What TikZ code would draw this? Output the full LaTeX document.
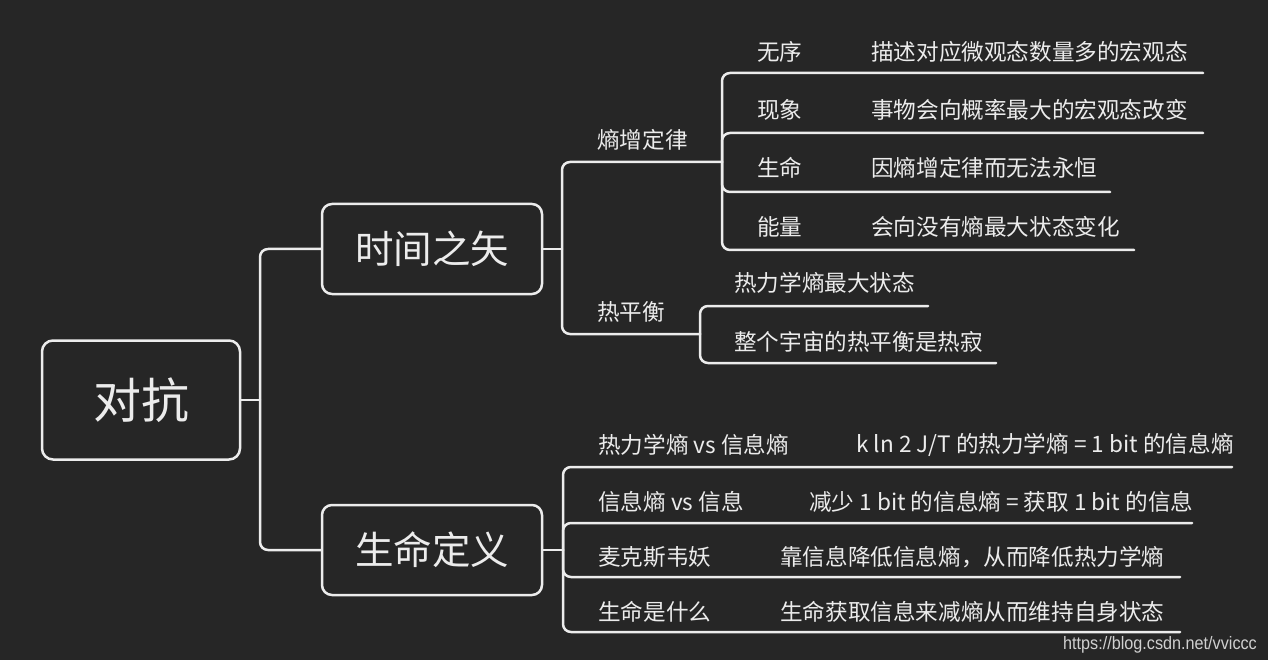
\documentclass[tikz,border=0pt]{standalone}
\usepackage{fontspec}
\setmainfont{Noto Sans CJK SC}
\newfontfamily\markfont[FakeStretch=0.9]{Liberation Sans}
\definecolor{bg}{HTML}{262626}
\definecolor{ink}{HTML}{ECECEC}
\definecolor{mark}{HTML}{D0D0D0}
\begin{document}
\begin{tikzpicture}[x=1pt,y=-1pt,line cap=round,line join=round,
  rootbox/.style={draw=ink,line width=2.5pt,rounded corners=11pt,text=ink,
    minimum width=198pt,minimum height=119pt,font=\fontsize{48}{50}\selectfont},
  topicbox/.style={draw=ink,line width=2.5pt,rounded corners=10pt,text=ink,
    minimum width=220pt,minimum height=90pt,font=\fontsize{38.5}{42}\selectfont},
  leaf/.style={text=ink,inner sep=0pt,anchor=west,font=\fontsize{22.6}{26}\selectfont},
  link/.style={draw=ink,line width=2.5pt,rounded corners=8pt}]
  \useasboundingbox[fill=bg] (0,0) rectangle (1268,660);
  % main topics
  \node[rootbox] (root) at (141,400) {对抗};
  \node[topicbox] (time) at (432,249) {时间之矢};
  \node[topicbox] (life) at (432,550) {生命定义};
  \coordinate (f0) at (260,400);
  \draw[link] (root.east) -- (f0);
  \draw[link] (time.west) -| (f0) |- (life.west);
  % time branch
  \coordinate (f1) at (562,249);
  \node[leaf] (shang) at (597,140) {熵增定律};
  \node[leaf] (reph) at (597,312) {热平衡};
  \coordinate (shangR) at (722,162);
  \coordinate (rephR) at (700,334);
  \draw[link] (time.east) -- (f1);
  \draw[link] (shangR) -| (f1) |- (rephR);
  % entropy law
  \node[leaf] (wuxu) at (757,52) {无序};
  \node[leaf] (wuxuD) at (871,52) {描述对应微观态数量多的宏观态};
  \node[leaf] (xianx) at (757,110) {现象};
  \node[leaf] (xianxD) at (871,110) {事物会向概率最大的宏观态改变};
  \node[leaf] (shengm) at (757,168) {生命};
  \node[leaf] (shengmD) at (871,168) {因熵增定律而无法永恒};
  \node[leaf] (nengl) at (757,227) {能量};
  \node[leaf] (nenglD) at (871,227) {会向没有熵最大状态变化};
  \coordinate (wuxuR) at (1203,73);
  \coordinate (xianxR) at (1203,133);
  \coordinate (shengmR) at (1110,192);
  \coordinate (nenglR) at (1134,250);
  \draw[link] (shangR) |- (wuxuR);
  \draw[link] (shangR) |- (xianxR);
  \draw[link] (shangR) |- (shengmR);
  \draw[link] (shangR) |- (nenglR);
  % thermal equilibrium
  \node[leaf] (relx) at (734,283) {热力学熵最大状态};
  \node[leaf] (zhengg) at (734,342) {整个宇宙的热平衡是热寂};
  \coordinate (relxR) at (928,306);
  \coordinate (zhenggR) at (996,363);
  \draw[link] (rephR) |- (relxR);
  \draw[link] (rephR) |- (zhenggR);
  % life branch
  \coordinate (f2) at (563,550);
  \draw[link] (life.east) -- (f2);
  \node[leaf] (rexx) at (598,445) {热力学熵 vs 信息熵};
  \node[leaf] (rexxD) at (856,445) {k ln 2 J/T 的热力学熵 = 1 bit 的信息熵};
  \node[leaf] (xinx) at (598,502) {信息熵 vs 信息};
  \node[leaf] (xinxD) at (809,502) {减少 1 bit 的信息熵 = 获取 1 bit 的信息};
  \node[leaf] (maxw) at (598,557) {麦克斯韦妖};
  \node[leaf] (maxwD) at (780,557) {靠信息降低信息熵，从而降低热力学熵};
  \node[leaf] (smsh) at (598,612) {生命是什么};
  \node[leaf] (smshD) at (780,612) {生命获取信息来减熵从而维持自身状态};
  \coordinate (rexxR) at (1232,467);
  \coordinate (xinxR) at (1192,523);
  \coordinate (maxwR) at (1180,577);
  \coordinate (smshR) at (1180,632);
  \foreach \n in {rexxR,xinxR,maxwR,smshR}
    \draw[link] (f2) |- (\n);
  \node[anchor=east,inner sep=0pt,text=mark,font=\markfont\fontsize{18}{20}\selectfont] (url) at (1257,645) {https://blog.csdn.net/vviccc};
\end{tikzpicture}
\end{document}
